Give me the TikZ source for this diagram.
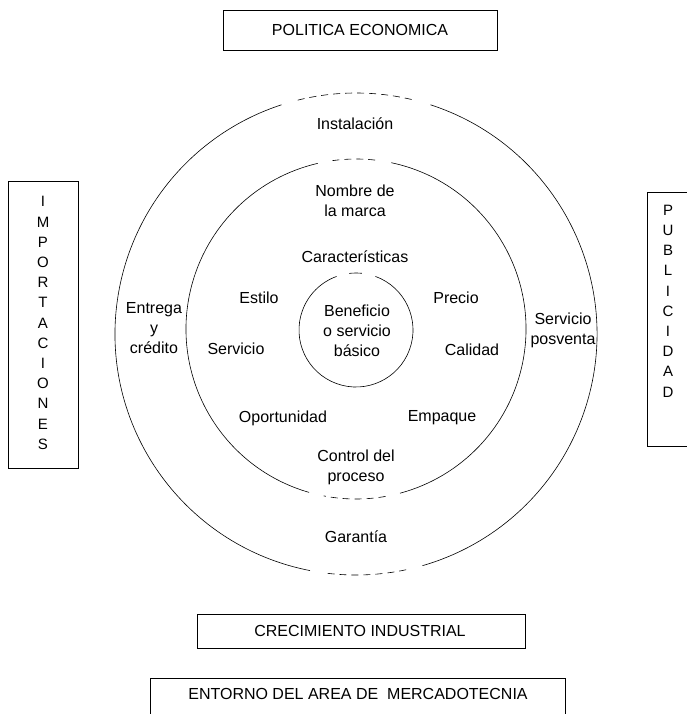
\documentclass[tikz,border=0pt]{standalone}
\usepackage{fontspec}
\setmainfont{Liberation Sans}
\begin{document}
\begin{tikzpicture}[x=1pt,y=-1pt,
  lbl/.style={font=\fontsize{16}{20}\selectfont, align=center, inner sep=0pt},
  captext/.style={font=\fontsize{16}{20}\selectfont, inner sep=0pt},
  vert/.style={font=\fontsize{15}{20.2}\selectfont, align=center, inner sep=0pt},
  boxline/.style={draw=black, line width=0.8pt},
  ring/.style={draw=black, line width=0.6pt},
  ringgap/.style={draw=black, line width=0.6pt, dash pattern=on 7pt off 5pt}]
\useasboundingbox (0,0) rectangle (687,714);
\clip (0,0) rectangle (687,714);
\fill[white] (0,0) rectangle (687,714);

% outer ring
\coordinate (oc) at (356,334);
\draw[ring] ([shift={(288:241)}]oc) arc[start angle=288, end angle=434, radius=241];
\draw[ring] ([shift={(101:241)}]oc) arc[start angle=101, end angle=252, radius=241];
\draw[ringgap] ([shift={(256:241)}]oc) arc[start angle=256, end angle=284, radius=241];
\draw[ringgap] ([shift={(78:241)}]oc) arc[start angle=78, end angle=97, radius=241];

% middle ring
\coordinate (mc) at (356,329);
\draw[ring] ([shift={(282:170)}]mc) arc[start angle=282, end angle=435, radius=170];
\draw[ring] ([shift={(106:170)}]mc) arc[start angle=106, end angle=257, radius=170];
\draw[ringgap] ([shift={(262:170)}]mc) arc[start angle=262, end angle=277, radius=170];
\draw[ringgap] ([shift={(80:170)}]mc) arc[start angle=80, end angle=101, radius=170];

% inner ring
\coordinate (ic) at (356,330);
\draw[ring] ([shift={(290:57)}]ic) arc[start angle=290, end angle=610, radius=57];
\draw[ring] ([shift={(263:57)}]ic) arc[start angle=263, end angle=276, radius=57];

% ring labels
\node[lbl] (inst) at (355,124) {Instalación};
\node[lbl] (nombre) at (355,201) {Nombre de\\la marca};
\node[lbl] (caract) at (355,257) {Características};
\node[lbl] (estilo) at (259,298) {Estilo};
\node[lbl] (precio) at (456,298) {Precio};
\node[lbl] (benef) at (357,331) {Beneficio\\o servicio\\básico};
\node[lbl] (entrega) at (154,328) {Entrega\\y\\crédito};
\node[lbl] (servicio) at (236,349) {Servicio};
\node[lbl] (calidad) at (472,350) {Calidad};
\node[lbl] (posventa) at (563,330) {Servicio\\posventa};
\node[lbl] (oport) at (283,418) {Oportunidad};
\node[lbl] (empaque) at (442,418) {Empaque};
\node[lbl] (control) at (356,467) {Control del\\proceso};
\node[lbl] (garantia) at (356,537) {Garantía};

% environment boxes
\draw[boxline] (223,10) rectangle (497,50);
\node[captext] (politica) at (360,30) {POLITICA ECONOMICA};

\draw[boxline] (8,181) rectangle (78,468);
\node[vert] (import) at (43,323) {I\\M\\P\\O\\R\\T\\A\\C\\I\\O\\N\\E\\S};

\draw[boxline] (647,192) rectangle (700,446);
\node[vert] (public) at (668,301) {P\\U\\B\\L\\I\\C\\I\\D\\A\\D};

\draw[boxline] (197,614) rectangle (525,648);
\node[captext] (crec) at (360,631) {CRECIMIENTO INDUSTRIAL};

\draw[boxline] (150,720) -- (150,678) -- (565,678) -- (565,720);
\node[captext] (entorno) at (358,694) {ENTORNO DEL AREA DE\ \ MERCADOTECNIA};
\end{tikzpicture}
\end{document}
